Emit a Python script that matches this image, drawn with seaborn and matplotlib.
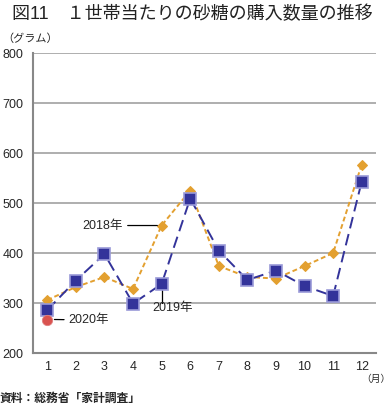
import matplotlib
matplotlib.use("Agg")
import matplotlib.pyplot as plt
import seaborn as sns
import pandas as pd

months = [1, 2, 3, 4, 5, 6, 7, 8, 9, 10, 11, 12]
y2018 = [306, 332, 352, 328, 455, 525, 374, 352, 349, 374, 400, 577]
y2019 = [286, 345, 398, 299, 338, 509, 405, 346, 365, 334, 314, 543]
m2020 = [1]
y2020 = [267]
yticks = [200, 300, 400, 500, 600, 700, 800]

sns.set_style("white")
plt.rcParams['font.family'] = ['Liberation Sans', 'Noto Sans CJK JP']

fig = plt.figure(figsize=(3.89, 4.08), dpi=100)
ax = fig.add_axes([0.0848, 0.1348, 0.8818, 0.7352])

df18 = pd.DataFrame({"month": months, "value": y2018})
df19 = pd.DataFrame({"month": months, "value": y2019})
df20 = pd.DataFrame({"month": m2020, "value": y2020})

sns.lineplot(data=df18, x="month", y="value", ax=ax, color="#e3a030",
             linestyle=(0, (2.5, 1.5)), linewidth=1.4, marker="D", markersize=5.5,
             markeredgecolor="#e3a030", zorder=3)
sns.lineplot(data=df19, x="month", y="value", ax=ax, color="#33339a",
             linestyle=(0, (6, 3)), linewidth=1.4, marker="s", markersize=8,
             markeredgecolor="#9a9ad8", markeredgewidth=1.2, zorder=4)
sns.scatterplot(data=df20, x="month", y="value", ax=ax, color="#d9534f",
                s=55, edgecolor="#e08080", linewidth=0.6, zorder=5)

ax.set_xlim(0.5, 12.5)
ax.set_ylim(200, 800)
ax.set_yticks(yticks)
ax.set_yticklabels([str(v) for v in yticks], fontsize=9)
ax.set_xticks(months)
ax.set_xticklabels([str(m) for m in months], fontsize=9)
ax.set_xticks([m + 0.5 for m in [0] + months], minor=True)
ax.tick_params(axis='x', which='major', length=0, pad=6)
ax.tick_params(axis='x', which='minor', length=3, width=0.8, color="#888888", direction='out')
ax.tick_params(axis='y', length=0, pad=7)
ax.set_xlabel("")
ax.set_ylabel("")
ax.yaxis.grid(True, color="#999999", linewidth=1.1)
ax.set_axisbelow(True)
for s in ["top", "right"]:
    ax.spines[s].set_visible(False)
for s in ["left", "bottom"]:
    ax.spines[s].set_color("#888888")
    ax.spines[s].set_linewidth(1.5)

# annotations
ax.annotate("2018年", xy=(4.85, 455), xytext=(3.65, 455), fontsize=9,
            va="center", ha="right",
            arrowprops=dict(arrowstyle="-", color="black", lw=0.9, shrinkA=1, shrinkB=0))
ax.plot([5.0, 5.0], [326, 300], color="black", lw=0.9, zorder=2)
ax.text(4.68, 290, "2019年", fontsize=9, va="center", ha="left")
ax.annotate("2020年", xy=(1.25, 267), xytext=(1.75, 266), fontsize=9,
            va="center", ha="left",
            arrowprops=dict(arrowstyle="-", color="black", lw=0.9, shrinkA=1, shrinkB=0))

fig.text(0.03, 0.966, "図11　１世帯当たりの砂糖の購入数量の推移", fontsize=13,
         ha="left", va="center", color="#222222")
fig.text(0.005, 0.905, "（グラム）", fontsize=8, ha="left", va="center")
fig.text(0.928, 0.072, "（月）", fontsize=7, ha="left", va="center")
fig.text(0.0, 0.022, "資料：総務省「家計調査」", fontsize=8.5, ha="left", va="center",
         fontweight="bold")

fig.savefig("out.png", dpi=100)
